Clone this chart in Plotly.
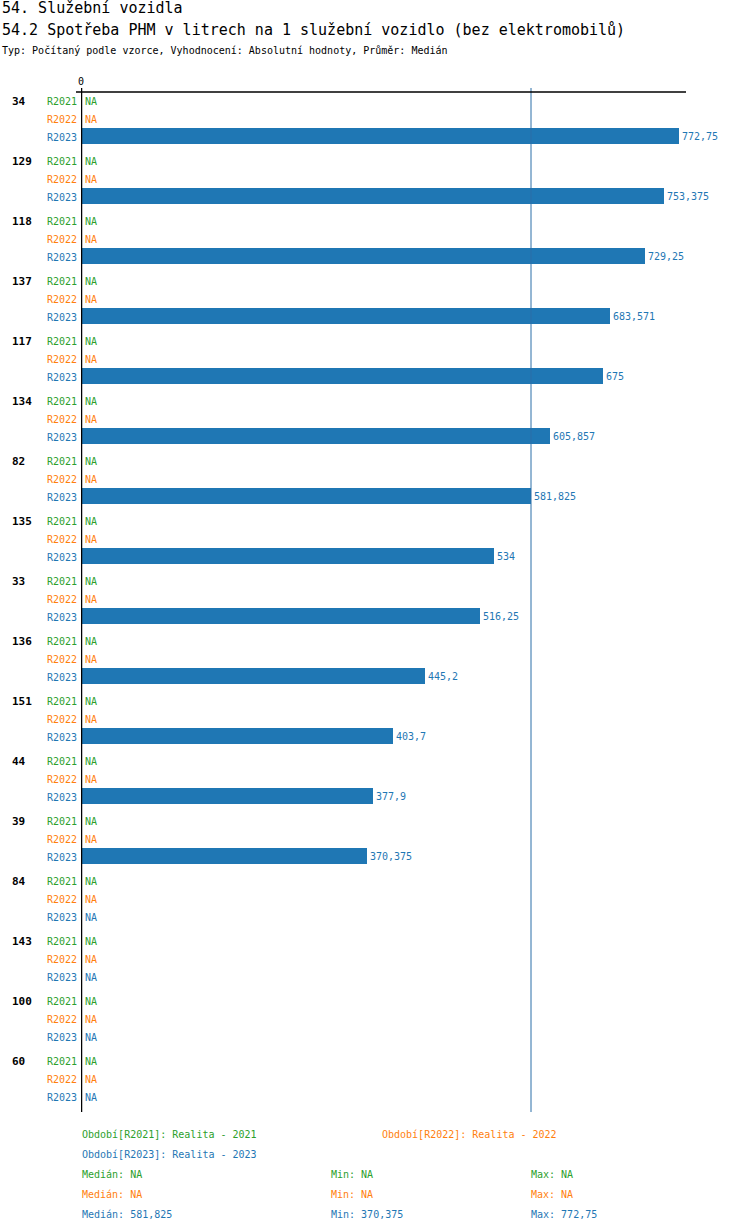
import numpy as np
import plotly.graph_objects as go

# data (None = NA)
GROUPS = ["34", "129", "118", "137", "117", "134", "82", "135", "33",
          "136", "151", "44", "39", "84", "143", "100", "60"]
SERIES = ["R2021", "R2022", "R2023"]
R2021 = [None] * 17
R2022 = [None] * 17
R2023 = [772.75, 753.375, 729.25, 683.571, 675, 605.857, 581.825, 534,
         516.25, 445.2, 403.7, 377.9, 370.375, None, None, None, None]
PERIODS = ["Realita - 2021", "Realita - 2022", "Realita - 2023"]

COLORS = {"R2021": "#2ca02c", "R2022": "#ff7f0e", "R2023": "#1f77b4"}
FONT = "DejaVu Sans Mono"

W, H = 750, 1232
PL, PR = 81, 686          # plot area in px
PT, PB = 88, 1112
ROW0 = 101                # centre of the first row
ROW_H, GROUP_H = 18, 60
XMAX = (PR - PL) / ((531 - PL) / 581.825)


def fmt(v):
    if v is None:
        return "NA"
    s = f"{v:.3f}".rstrip("0").rstrip(".")
    return s.replace(".", ",")


def px_x(px):
    return (px - PL) / (PR - PL)


def px_y(py):
    return (PB - py) / (PB - PT)


values = {"R2021": R2021, "R2022": R2022, "R2023": R2023}


def ypos(g, k):
    return GROUP_H * g + ROW_H * k


fig = go.Figure()
annotations = []

for k, s in enumerate(SERIES):
    vals = values[s]
    ys = [ypos(g, k) for g in range(len(GROUPS))]
    xs = [v if v is not None else 0 for v in vals]
    txt = [fmt(v) if v is not None else "" for v in vals]
    fig.add_trace(go.Bar(
        x=xs, y=ys, orientation="h", width=16, offset=-9,
        marker=dict(color=COLORS[s], line=dict(width=0)),
        text=txt, textposition="outside", cliponaxis=False,
        textfont=dict(family=FONT, size=10, color=COLORS[s]),
        showlegend=False, hoverinfo="skip",
    ))
    for g, v in enumerate(vals):
        y = ypos(g, k)
        annotations.append(dict(
            x=0, y=y, xref="paper", yref="y", text=s, showarrow=False,
            xanchor="right", xshift=-2,
            font=dict(family=FONT, size=10, color=COLORS[s])))
        if v is None:
            annotations.append(dict(
                x=0, y=y, xref="x", yref="y", text="NA", showarrow=False,
                xanchor="left", xshift=2,
                font=dict(family=FONT, size=10, color=COLORS[s])))

for g, name in enumerate(GROUPS):
    annotations.append(dict(
        x=px_x(10), y=ypos(g, 0), xref="paper", yref="y",
        text=f"<b>{name}</b>", showarrow=False, xanchor="left",
        font=dict(family=FONT, size=11, color="black")))

# titles
for text, py, size in [("54. Služební vozidla", 8, 15),
                       ("54.2 Spotřeba PHM v litrech na 1 služební vozidlo (bez elektromobilů)", 30, 15),
                       ("Typ: Počítaný podle vzorce, Vyhodnocení: Absolutní hodnoty, Průměr: Medián", 50, 10)]:
    annotations.append(dict(
        x=px_x(0), y=px_y(py), xref="paper", yref="paper", text=text,
        showarrow=False, xanchor="left", yanchor="middle",
        font=dict(family=FONT, size=size, color="black")))


def foot(text, px, py, color):
    annotations.append(dict(
        x=px_x(px), y=px_y(py), xref="paper", yref="paper", text=text,
        showarrow=False, xanchor="left", yanchor="middle",
        font=dict(family=FONT, size=10, color=color)))


foot(f"Období[R2021]: {PERIODS[0]}", 80, 1134, COLORS["R2021"])
foot(f"Období[R2022]: {PERIODS[1]}", 380, 1134, COLORS["R2022"])
foot(f"Období[R2023]: {PERIODS[2]}", 80, 1154, COLORS["R2023"])

for i, s in enumerate(SERIES):
    present = [v for v in values[s] if v is not None]
    if present:
        med, mn, mx = float(np.median(present)), min(present), max(present)
    else:
        med = mn = mx = None
    py = 1174 + 20 * i
    foot(f"Medián: {fmt(med)}", 80, py, COLORS[s])
    foot(f"Min: {fmt(mn)}", 329, py, COLORS[s])
    foot(f"Max: {fmt(mx)}", 529, py, COLORS[s])

r23 = [v for v in R2023 if v is not None]
median23 = float(np.median(r23))

shapes = [
    dict(type="line", xref="x", yref="paper", x0=median23, x1=median23,
         y0=0, y1=1, line=dict(color="#2a6fa8", width=1)),
    dict(type="line", xref="paper", yref="paper", x0=px_x(76), x1=1,
         y0=px_y(92), y1=px_y(92), line=dict(color="black", width=1.5)),
    dict(type="line", xref="x", yref="paper", x0=0, x1=0,
         y0=0, y1=1, line=dict(color="black", width=2.5)),
]

fig.update_layout(
    width=W, height=H,
    margin=dict(l=PL, r=W - PR, t=PT, b=H - PB, pad=0),
    paper_bgcolor="white", plot_bgcolor="white",
    barmode="overlay", bargap=0,
    font=dict(family=FONT, size=10, color="black"),
    xaxis=dict(range=[0, XMAX], side="top", tickvals=[0], ticktext=["0"],
               showgrid=False, zeroline=False, showline=False, ticks="",
               tickfont=dict(family=FONT, size=10, color="black"),
               fixedrange=True),
    yaxis=dict(range=[PB - ROW0, PT - ROW0], showgrid=False, zeroline=False,
               showline=False, showticklabels=False, ticks="",
               fixedrange=True),
    shapes=shapes,
    annotations=annotations,
)

fig.write_html("out.html", config={"displayModeBar": False},
               post_script="document.body.style.margin='0';")
